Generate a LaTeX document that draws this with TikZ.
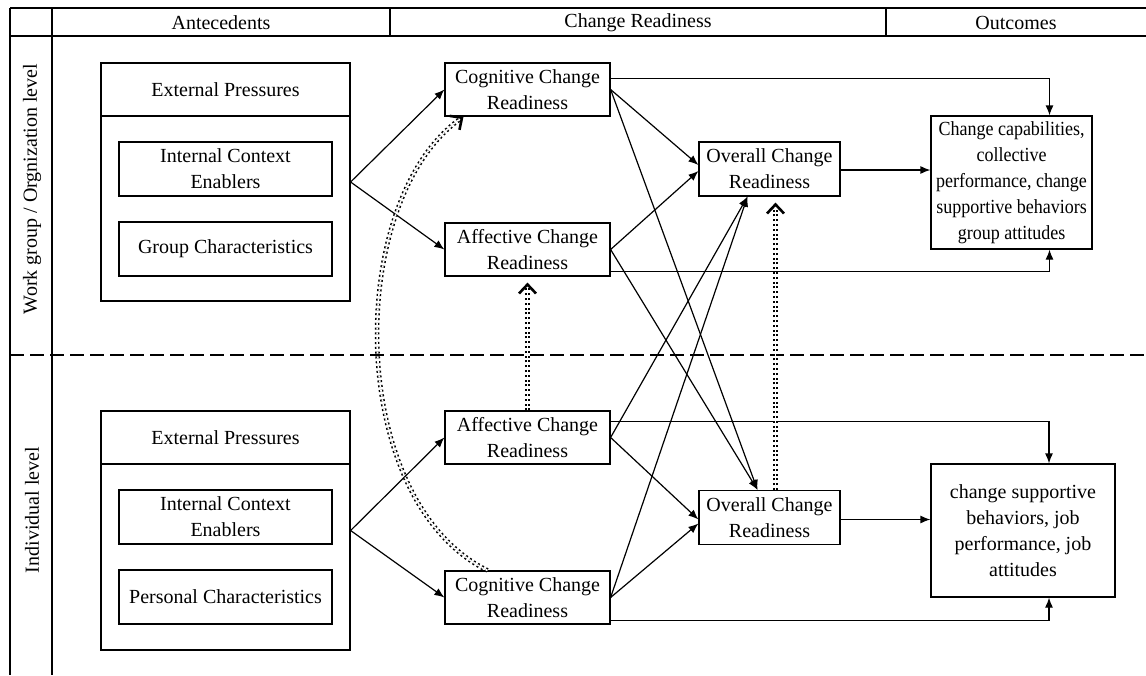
\documentclass[tikz,border=0pt]{standalone}
\usepackage{fontspec}
\setmainfont{Liberation Serif}
\usetikzlibrary{arrows.meta}

\begin{document}
\begin{tikzpicture}[x=0.5pt,y=-0.5pt,font=\fontsize{10}{13}\selectfont,
  box/.style={draw,semithick,align=center,inner sep=1pt},
  crbox/.style={box,minimum width=82.5pt,minimum height=26.5pt},
  ovbox/.style={box,minimum width=70.5pt,minimum height=27pt},
  inbox/.style={box,minimum width=106.5pt,minimum height=27pt},
  link/.style={semithick,-{Latex[length=5pt,width=4pt]}},
  feedback/.style={double,dash pattern=on 1pt off 1.4pt,line width=0.75pt,double distance=0.8pt,
    -{Straight Barb[length=4.5pt,width=8.5pt,line width=1.3pt]}}]
\useasboundingbox (0,0) rectangle (1146,675);

% header and levels
\draw[semithick] (10,8) -- (1146,8) (10,36) -- (1146,36);
\draw[semithick] (10,8) -- (10,675) (52,8) -- (52,675) (390,8) -- (390,36) (886,8) -- (886,36);
\node(hAnt) at (221,23) {Antecedents};
\node(hCR) at (638,23) {Change Readiness};
\node(hOut) at (1016,23) {Outcomes};
\node(lvU)[rotate=90] at (32,189) {Work group / Orgnization level};
\node(lvL)[rotate=90] at (32,510) {Individual level};
\draw[line width=1.1pt,dash pattern=on 7pt off 3pt] (10,355) -- (1146,355);

% work group level
\node(antU)[box,minimum width=124.5pt,minimum height=119pt] at (225.5,182) {};
\node(extU)[box,minimum width=124.5pt,minimum height=26.5pt,anchor=north] at (antU.north) {External Pressures};
\node(iceU)[inbox] at (225.5,169) {Internal Context\\Enablers};
\node(grpU)[inbox] at (225.5,249) {Group Characteristics};
\node(cogU)[crbox] at (527.5,89.5) {Cognitive Change\\Readiness};
\node(affU)[crbox] at (527.5,249.5) {Affective Change\\Readiness};
\node(ovU)[ovbox] at (769.5,169) {Overall Change\\Readiness};
\node(outU)[box,inner sep=0pt,minimum width=80.5pt,minimum height=66.5pt,font=\fontsize{10}{13}\selectfont\addfontfeatures{FakeStretch=0.9}] at (1011.5,182.5)
  {Change capabilities,\\collective\\performance, change\\supportive behaviors\\group attitudes};

% individual level
\node(antL)[box,minimum width=124.5pt,minimum height=119.5pt] at (225.5,530.5) {};
\node(extL)[box,minimum width=124.5pt,minimum height=26.5pt,anchor=north] at (antL.north) {External Pressures};
\node(iceL)[inbox] at (225.5,517) {Internal Context\\Enablers};
\node(perL)[inbox] at (225.5,597) {Personal Characteristics};
\node(affL)[crbox] at (527.5,437.5) {Affective Change\\Readiness};
\node(cogL)[crbox] at (527.5,597.5) {Cognitive Change\\Readiness};
\node(ovL)[ovbox] at (769.5,517.5) {Overall Change\\Readiness};
\node(outL)[box,minimum width=92pt,minimum height=66.5pt] at (1023,530.5)
  {change supportive\\behaviors, job\\performance, job\\attitudes};

\draw[link] (antU.east) -- (cogU.west);
\draw[link] (antU.east) -- (affU.west);
\draw[link] (antL.east) -- (affL.west);
\draw[link] (antL.east) -- (cogL.west);

\draw[link] (cogU.east) -- ([yshift=2pt]ovU.west);
\draw[link] (affU.east) -- ([yshift=-1pt]ovU.west);
\draw[link] (cogU.east) -- ([xshift=-6pt]ovL.north);
\draw[link] (affU.east) -- ([xshift=-6pt]ovL.north);
\draw[link] (affL.east) -- ([yshift=-1pt]ovL.west);
\draw[link] (cogL.east) -- ([yshift=-3pt]ovL.west);
\draw[link] (affL.east) -- ([xshift=-11pt]ovU.south);
\draw[link] (cogL.east) -- ([xshift=-11pt]ovU.south);

\draw[link] ([yshift=5.5pt]cogU.east) -| ([xshift=19pt]outU.north);
\draw[link] ([yshift=-11pt]affU.east) -| ([xshift=19pt]outU.south);
\draw[link] ([yshift=8pt]affL.east) -| ([xshift=13pt]outL.north);
\draw[link] ([yshift=-11.5pt]cogL.east) -| ([xshift=13pt]outL.south);
\draw[link] ([yshift=-0.5pt]ovU.east) -- ([yshift=-0.5pt]ovU.east -| outU.west);
\draw[link] ([yshift=-1pt]ovL.east) -- ([yshift=-1pt]ovL.east -| outL.west);

%\draw[feedback] (cogL.north) -- (cogU.south);
\draw[feedback] ([xshift=-20pt]cogL.north) .. controls (345,500) and (345,200) .. ([xshift=-32pt]cogU.south);
\draw[feedback,shorten >=3pt] (affL.north) -- (affU.south);
\draw[feedback,shorten >=3pt] ([xshift=3pt]ovL.north) -- ([xshift=3pt]ovU.south);

\end{tikzpicture}
\end{document}
